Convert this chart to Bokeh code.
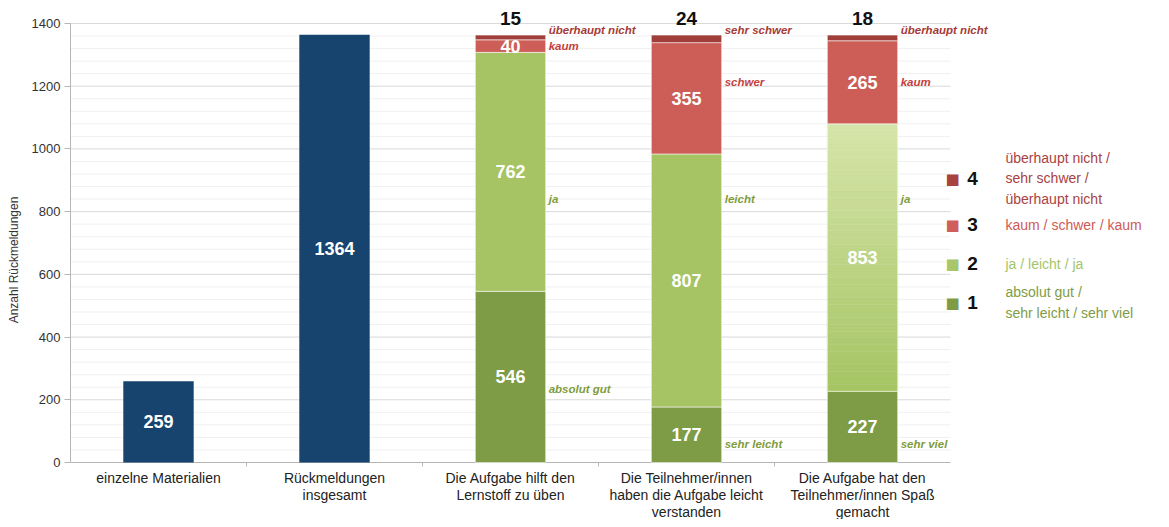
from bokeh.plotting import figure
from bokeh.models import Range1d, FixedTicker, Label
from bokeh.embed import file_html
from bokeh.resources import INLINE
import numpy as np

# ---------------- data ----------------
categories = ["einzelne Materialien", "Rückmeldungen\ninsgesamt",
              "Die Aufgabe hilft den\nLernstoff zu üben",
              "Die Teilnehmer/innen\nhaben die Aufgabe leicht\nverstanden",
              "Die Aufgabe hat den\nTeilnehmer/innen Spaß\ngemacht"]
totals = [259, 1364]                 # simple bars (categories 0, 1)
level1 = [546, 177, 227]             # stacked bars (categories 2, 3, 4)
level2 = [762, 807, 853]
level3 = [40, 355, 265]
level4 = [15, 24, 18]
answers1 = ["absolut gut", "sehr leicht", "sehr viel"]
answers2 = ["ja", "leicht", "ja"]
answers3 = ["kaum", "schwer", "kaum"]
answers4 = ["überhaupt nicht", "sehr schwer", "überhaupt nicht"]
legend_numbers = ["4", "3", "2", "1"]
legend_texts = ["überhaupt nicht /\nsehr schwer /\nüberhaupt nicht",
                "kaum / schwer / kaum", "ja / leicht / ja",
                "absolut gut /\nsehr leicht / sehr viel"]
y_ticks = [0, 200, 400, 600, 800, 1000, 1200, 1400]
axis_title = "Anzahl Rückmeldungen"

# ---------------- style ----------------
BLUE = "#17446f"
C1 = "#7e9b45"
C2 = "#a6c463"
C3 = "#cd5d57"
C4 = "#a03e3a"
T_RED_D, T_RED, T_GRN = "#a53b38", "#c4413d", "#7f9c3d"
side_y1 = [235, 60, 60]
side_y2 = [840, 840, 840]
side_y3 = [1327, 1215, 1215]
side_y4 = [1378, 1378, 1378]

W, H = 1161, 519
BL = 70                      # frame left edge (pixels)
FW = W - BL
PX_PER_CAT = 176.0
Y0_PX, Y1400_PX = 462, 23    # pixel rows of 0 and 1400
UPX = 1400 / (Y0_PX - Y1400_PX)
Y_START = -(H - Y0_PX) * UPX
Y_END = Y0_PX * UPX
X_START = -0.5
X_END = X_START + FW / PX_PER_CAT


def dx(px):  # pixel -> data x
    return X_START + (px - BL) / PX_PER_CAT


def dy(py):  # pixel -> data y
    return (Y0_PX - py) * UPX


p = figure(width=W, height=H, output_backend="svg", toolbar_location=None,
           x_range=Range1d(X_START, X_END), y_range=Range1d(Y_START, Y_END),
           x_axis_location=None,
           min_border_left=BL, min_border_right=0, min_border_top=0,
           min_border_bottom=0, outline_line_color=None,
           background_fill_color="white", border_fill_color="white")

# y axis
p.yaxis.ticker = FixedTicker(ticks=y_ticks)
p.yaxis.bounds = (0, 1400)
p.yaxis.axis_line_color = "#b5b5b5"
p.yaxis.major_tick_line_color = "#b5b5b5"
p.yaxis.major_tick_out = 6
p.yaxis.major_tick_in = 0
p.yaxis.minor_tick_line_color = None
p.yaxis.major_label_text_font = "Liberation Sans"
p.yaxis.major_label_text_font_size = "13px"
p.yaxis.major_label_text_color = "#333333"
p.yaxis.major_label_standoff = 4
p.yaxis.axis_label = axis_title
p.yaxis.axis_label_text_font = "Liberation Sans"
p.yaxis.axis_label_text_font_style = "normal"
p.yaxis.axis_label_text_font_size = "12px"
p.yaxis.axis_label_text_color = "#333333"
p.yaxis.axis_label_standoff = 8
p.grid.grid_line_color = None

# gridlines limited to the category area
minor = [v for v in range(0, 1401, 40) if v not in y_ticks]
p.segment(x0=-0.5, x1=4.5, y0=minor, y1=minor, line_color="#f0f0f0", line_width=1)
p.segment(x0=-0.5, x1=4.5, y0=y_ticks[1:], y1=y_ticks[1:], line_color="#d9d9d9",
          line_width=1)
# x axis line and boundary ticks
p.segment(x0=[-0.5], x1=[4.5], y0=[0], y1=[0], line_color="#b5b5b5", line_width=1)
bounds_x = [i + 0.5 for i in range(len(categories) - 1)]
p.segment(x0=bounds_x, x1=bounds_x, y0=0, y1=-4 * UPX, line_color="#b5b5b5",
          line_width=1)

# simple bars
p.vbar(x=[0, 1], top=totals, width=0.4, fill_color=BLUE, line_color=None)


def val_label(x, y, txt, color="white", size="18px"):
    p.add_layout(Label(x=x, y=y, text=txt, text_align="center",
                       text_baseline="middle", text_color=color,
                       text_font="Liberation Sans", text_font_style="bold",
                       text_font_size=size))


for i, v in enumerate(totals):
    val_label(i, v / 2, str(v))

# stacked bars
xs = [2, 3, 4]
t1 = level1
t2 = [a + b for a, b in zip(t1, level2)]
t3 = [a + b for a, b in zip(t2, level3)]
t4 = [a + b for a, b in zip(t3, level4)]
seg_line = dict(line_color="white", line_alpha=0.55, line_width=1)
p.vbar(x=xs, bottom=[0, 0, 0], top=t1, width=0.4, fill_color=C1, **seg_line)
p.vbar(x=xs[:2], bottom=t1[:2], top=t2[:2], width=0.4, fill_color=C2, **seg_line)
# last bar's light green segment with a vertical colour gradient
n = 40
edges = np.linspace(t1[2], t2[2], n + 1)
c_bot = np.array([0xa6, 0xc5, 0x64])
c_top = np.array([0xd6, 0xe5, 0xaa])
cols = []
for k in range(n):
    f = (k + 0.5) / n
    c = (c_bot * (1 - f) + c_top * f).astype(int)
    cols.append("#%02x%02x%02x" % tuple(c))
p.vbar(x=[4] * n, bottom=edges[:-1], top=edges[1:], width=0.4,
       fill_color=cols, line_color=cols, line_width=0.5)
p.vbar(x=[4], bottom=[t1[2]], top=[t2[2]], width=0.4, fill_color=None, **seg_line)
p.vbar(x=xs, bottom=t2, top=t3, width=0.4, fill_color=C3, **seg_line)
p.vbar(x=xs, bottom=t3, top=t4, width=0.4, fill_color=C4, **seg_line)

for j, x in enumerate(xs):
    val_label(x, level1[j] / 2, str(level1[j]))
    val_label(x, t1[j] + level2[j] / 2, str(level2[j]))
    val_label(x, t2[j] + level3[j] / 2, str(level3[j]))
    val_label(x, t4[j] + 17 * UPX, str(level4[j]), color="#111111", size="19px")


def side_label(x, y, txt, color):
    p.add_layout(Label(x=x + 0.2, y=y, x_offset=3, text=txt, text_align="left",
                       text_baseline="middle", text_color=color,
                       text_font="Liberation Sans",
                       text_font_style="bold italic", text_font_size="11.5px"))


for j, x in enumerate(xs):
    side_label(x, side_y1[j], answers1[j], T_GRN)
    side_label(x, side_y2[j], answers2[j], T_GRN)
    side_label(x, side_y3[j], answers3[j], T_RED)
    side_label(x, side_y4[j], answers4[j], T_RED_D)

# category labels below the axis
for i, c in enumerate(categories):
    p.add_layout(Label(x=i, y=dy(469), text=c, text_align="center",
                       text_baseline="top", text_color="#222222",
                       text_font="Liberation Sans", text_font_size="14px",
                       text_line_height=1.08))

# legend (custom)
leg_cols = ["#a8433f", "#d05f5c", "#a9c66c", "#7f9c45"]
leg_txt_cols = ["#a8423f", "#cf5a57", "#a6c46a", "#7e9c45"]
leg_py = [178, 224, 263, 302]
for k in range(4):
    yy = dy(leg_py[k])
    p.add_layout(Label(x=dx(952), y=yy, text="■", text_align="center",
                       text_baseline="middle", text_color=leg_cols[k],
                       text_font="DejaVu Sans", text_font_size="15px"))
    p.add_layout(Label(x=dx(972), y=yy, text=legend_numbers[k],
                       text_align="center", text_baseline="middle",
                       text_color="#111111", text_font="Liberation Sans",
                       text_font_style="bold", text_font_size="19px"))
    p.add_layout(Label(x=dx(1005), y=yy, text=legend_texts[k],
                       text_align="left", text_baseline="middle",
                       text_color=leg_txt_cols[k], text_font="Liberation Sans",
                       text_font_size="14px", text_line_height=1.3))

open("out.html", "w").write(file_html(p, INLINE))
